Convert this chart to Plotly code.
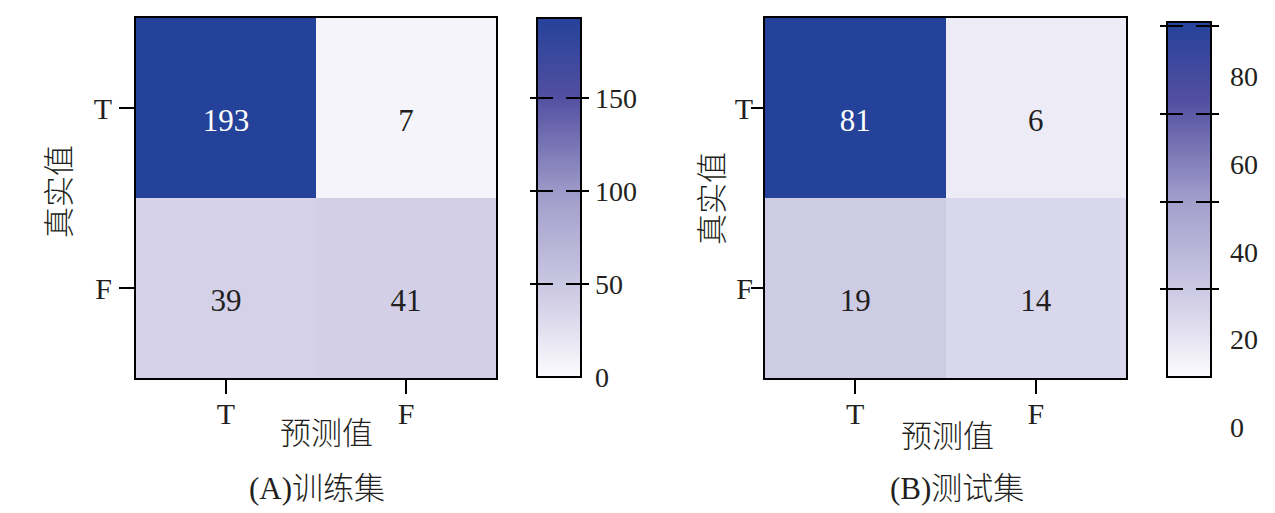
import plotly.graph_objects as go

# ---------------- data ----------------
pred_labels = ["T", "F"]          # x: predicted
true_labels = ["T", "F"]          # y: actual
train_z = [[193, 7], [39, 41]]
test_z = [[81, 6], [19, 14]]
train_range = [0, 193]
test_range = [0, 81]
train_cbar_ticks = [0, 50, 100, 150]
test_cbar_ticks = [0, 20, 40, 60, 80]
panel_titles = ["(A)训练集", "(B)测试集"]
x_title = "预测值"
y_title = "真实值"

# ---------------- styling ----------------
W, H = 1275, 513
OFF = 8                      # page body margin of the browser
TOP, BOT = 18, 378           # heatmap top / bottom in picture pixels
MT = TOP - OFF
MB = H - (BOT - OFF)
PH = BOT - TOP
SERIF = "Liberation Serif"
MIXED = "Liberation Serif, Noto Sans CJK SC"
INK = "#231f20"

cscale = [[0, "#FCFCFE"], [0.2, "#D4D1E8"], [0.5, "#A29ECB"],
          [0.78, "#524FA1"], [1, "#25429A"]]
clear = [[0, "rgba(0,0,0,0)"], [1, "rgba(0,0,0,0)"]]


def fx(px):
    return (px - OFF) / W


def fy(py):
    return (BOT - py) / PH


def cbar(left, thick, top, bottom, **kw):
    d = dict(x=fx(left), xanchor="left", xpad=0, ypad=0, thickness=thick,
             thicknessmode="pixels", lenmode="fraction",
             len=(bottom - top) / PH, y=fy(bottom), yanchor="bottom",
             outlinewidth=0, tickfont=dict(family=SERIF, size=28, color=INK))
    d.update(kw)
    return d


fig = go.Figure()

panels = [
    dict(z=train_z, rng=train_range, ticks=train_cbar_ticks, xa="x", ya="y",
         bar=(537, 581, 18, 377), label_shift=0, label_left=566),
    dict(z=test_z, rng=test_range, ticks=test_cbar_ticks, xa="x2", ya="y2",
         bar=(1167, 1211, 22, 377), label_shift=50, label_left=1201),
]

for p in panels:
    bl, br, bt, bb = p["bar"]
    zmin, zmax = p["rng"]
    # real heatmap with its colour bar (outline only)
    fig.add_trace(go.Heatmap(
        z=p["z"], x=pred_labels, y=true_labels, zmin=zmin, zmax=zmax,
        colorscale=cscale, hoverinfo="skip",
        xaxis=p["xa"], yaxis=p["ya"],
        colorbar=cbar(bl, br - bl, bt, bb, outlinewidth=2, outlinecolor="black",
                      ticks="", showticklabels=False)))
    # tick dashes across the left edge of the bar
    fig.add_trace(go.Heatmap(
        z=p["z"], x=pred_labels, y=true_labels, zmin=zmin, zmax=zmax,
        colorscale=clear, hoverinfo="skip", xaxis=p["xa"], yaxis=p["ya"],
        colorbar=cbar(bl - 7, 23, bt, bb, ticks="inside", ticklen=23,
                      tickwidth=2, tickcolor="black", tickmode="array",
                      tickvals=p["ticks"], showticklabels=False)))
    # tick dashes across the right edge of the bar (+ labels when aligned)
    aligned = p["label_shift"] == 0
    fig.add_trace(go.Heatmap(
        z=p["z"], x=pred_labels, y=true_labels, zmin=zmin, zmax=zmax,
        colorscale=clear, hoverinfo="skip", xaxis=p["xa"], yaxis=p["ya"],
        colorbar=cbar(br - 15, 23, bt, bb, ticks="inside", ticklen=23,
                      tickwidth=2, tickcolor="black", tickmode="array",
                      tickvals=p["ticks"], showticklabels=aligned)))
    if not aligned:
        s = p["label_shift"]
        fig.add_trace(go.Heatmap(
            z=p["z"], x=pred_labels, y=true_labels, zmin=zmin, zmax=zmax,
            colorscale=clear, hoverinfo="skip", xaxis=p["xa"], yaxis=p["ya"],
            colorbar=cbar(p["label_left"], 23, bt + s, bb + s, ticks="",
                          tickmode="array", tickvals=p["ticks"],
                          showticklabels=True)))
    # cell values
    xs, ys, ts, cs = [], [], [], []
    for i, yl in enumerate(true_labels):
        for j, xl in enumerate(pred_labels):
            v = p["z"][i][j]
            xs.append(xl)
            ys.append(yl)
            ts.append(str(v))
            cs.append("white" if v > (zmin + zmax) / 2 else INK)
    fig.add_trace(go.Scatter(
        x=xs, y=ys, text=ts, mode="text", textposition="bottom center",
        textfont=dict(family=SERIF, size=31, color=cs), hoverinfo="skip",
        xaxis=p["xa"], yaxis=p["ya"], showlegend=False))

axis_common = dict(showline=True, linewidth=2, linecolor="black", mirror=True,
                   ticks="outside", tickwidth=2, tickcolor="black",
                   showgrid=False, zeroline=False, fixedrange=True,
                   tickfont=dict(family=SERIF, size=30, color=INK))

fig.update_layout(
    width=W, height=H,
    margin=dict(l=0, r=0, t=MT, b=MB),
    paper_bgcolor="white", plot_bgcolor="white",
    showlegend=False,
    xaxis=dict(domain=[fx(136), fx(496)], anchor="y", ticklen=14,
               ticklabelstandoff=-6, **axis_common),
    yaxis=dict(domain=[0, 1], anchor="x", autorange="reversed", ticklen=15,
               ticklabelstandoff=1, **axis_common),
    xaxis2=dict(domain=[fx(765), fx(1126)], anchor="y2", ticklen=14,
                ticklabelstandoff=-6, **axis_common),
    yaxis2=dict(domain=[0, 1], anchor="x2", autorange="reversed", ticklen=12,
                ticklabelstandoff=-8, **axis_common),
)

ann_font = dict(family=MIXED, size=31, color=INK, weight=300)
annos = [
    (x_title, 326, 434, 0), (x_title, 947, 436, 0),
    (panel_titles[0], 317, 488, 0), (panel_titles[1], 957, 488, 0),
    (y_title, 60, 192, -90), (y_title, 712, 199, -90),
]
for text, ax_, ay_, ang in annos:
    fig.add_annotation(text=text, x=fx(ax_), y=fy(ay_), xref="paper",
                       yref="paper", xanchor="center", yanchor="middle",
                       showarrow=False, textangle=ang, font=ann_font)

fig.write_html("out.html")
